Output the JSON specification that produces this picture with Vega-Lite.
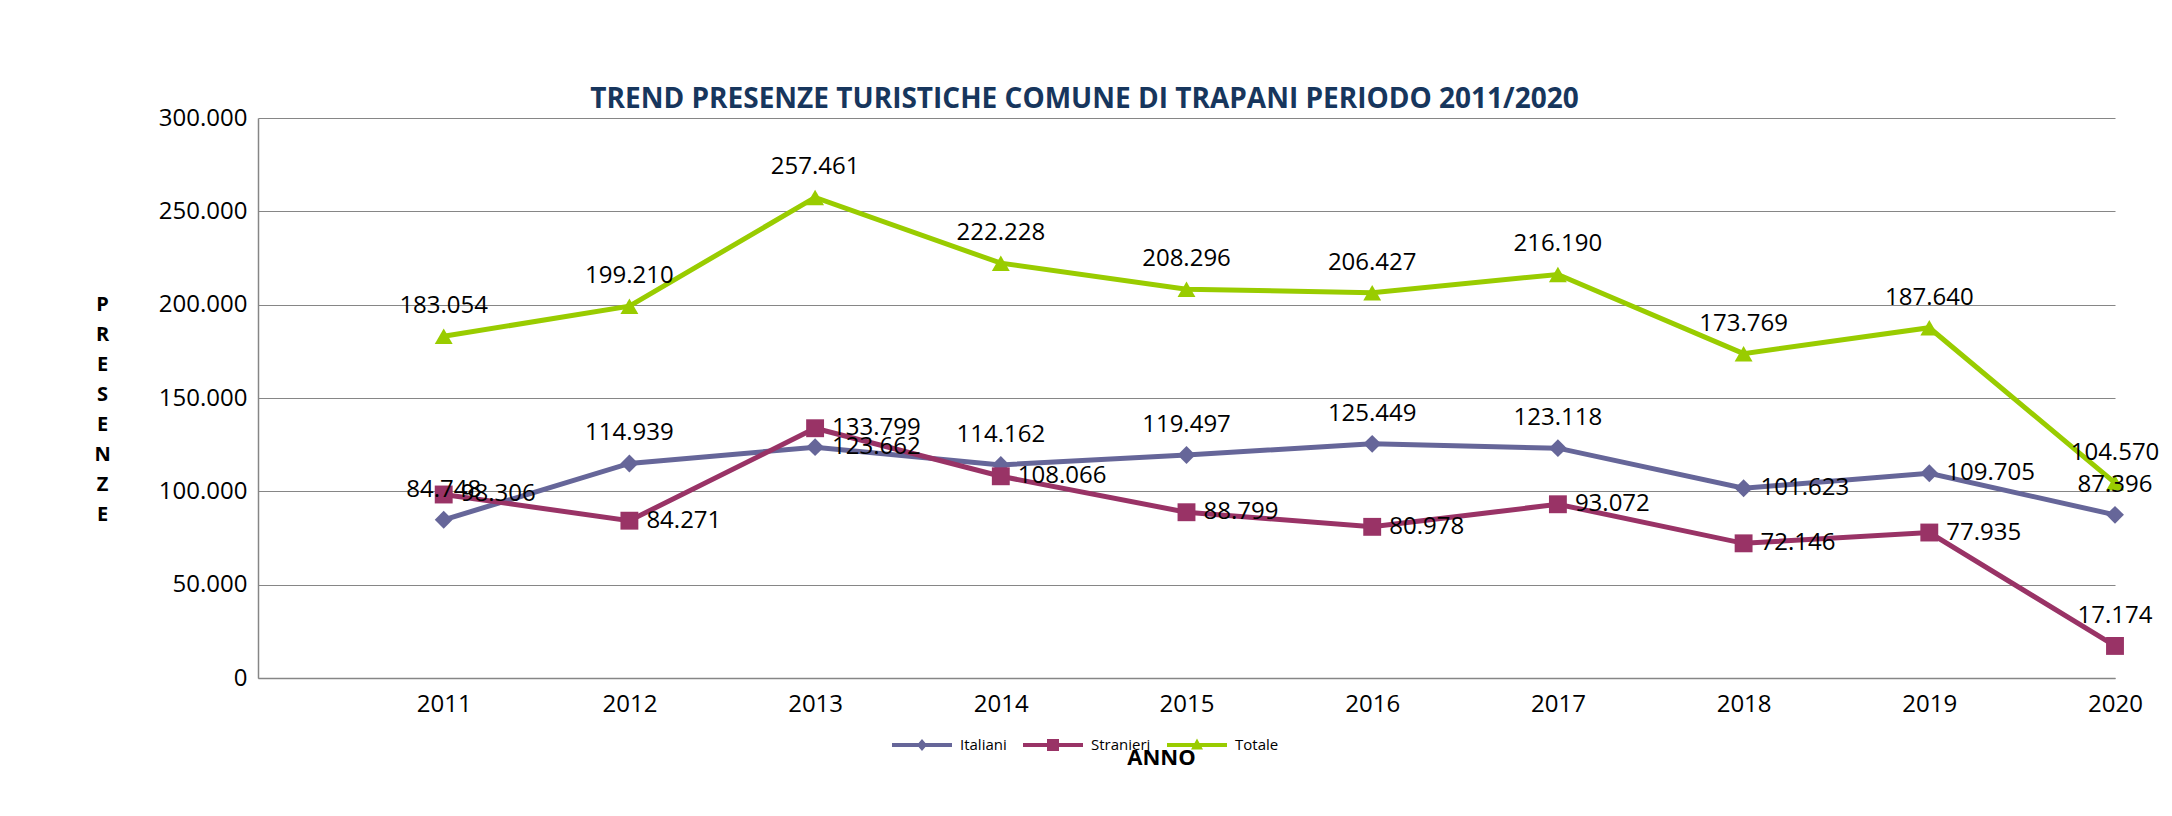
{
  "$schema": "https://vega.github.io/schema/vega-lite/v6.json",
  "width": 1857,
  "height": 560,
  "autosize": "none",
  "padding": {"left": 258, "top": 118, "right": 57, "bottom": 138},
  "background": "white",
  "config": {
    "locale": {"number": {"decimal": ",", "thousands": ".", "grouping": [3], "currency": ["€", ""]}},
    "view": {"stroke": null},
    "font": "Open Sans",
    "legend": {
      "title": null,
      "orient": "none",
      "legendX": 634,
      "legendY": 597,
      "direction": "horizontal",
      "symbolSize": 3600,
      "symbolStrokeWidth": 0,
      "symbolOpacity": 1,
      "labelFont": "Open Sans",
      "labelFontSize": 15,
      "labelColor": "black",
      "labelOffset": 8,
      "columnPadding": 16,
      "padding": 0
    }
  },
  "title": {
    "text": "TREND PRESENZE TURISTICHE  COMUNE DI TRAPANI PERIODO 2011/2020",
    "fontSize": 28,
    "fontWeight": "bold",
    "color": "#17365D",
    "font": "Open Sans",
    "anchor": "middle",
    "frame": "group",
    "dx": -102,
    "baseline": "alphabetic",
    "offset": -30
  },
  "data": {
    "values": [
      {"anno": 2011, "serie": "Italiani", "valore": 84748},
      {"anno": 2012, "serie": "Italiani", "valore": 114939},
      {"anno": 2013, "serie": "Italiani", "valore": 123662},
      {"anno": 2014, "serie": "Italiani", "valore": 114162},
      {"anno": 2015, "serie": "Italiani", "valore": 119497},
      {"anno": 2016, "serie": "Italiani", "valore": 125449},
      {"anno": 2017, "serie": "Italiani", "valore": 123118},
      {"anno": 2018, "serie": "Italiani", "valore": 101623},
      {"anno": 2019, "serie": "Italiani", "valore": 109705},
      {"anno": 2020, "serie": "Italiani", "valore": 87396},
      {"anno": 2011, "serie": "Stranieri", "valore": 98306},
      {"anno": 2012, "serie": "Stranieri", "valore": 84271},
      {"anno": 2013, "serie": "Stranieri", "valore": 133799},
      {"anno": 2014, "serie": "Stranieri", "valore": 108066},
      {"anno": 2015, "serie": "Stranieri", "valore": 88799},
      {"anno": 2016, "serie": "Stranieri", "valore": 80978},
      {"anno": 2017, "serie": "Stranieri", "valore": 93072},
      {"anno": 2018, "serie": "Stranieri", "valore": 72146},
      {"anno": 2019, "serie": "Stranieri", "valore": 77935},
      {"anno": 2020, "serie": "Stranieri", "valore": 17174},
      {"anno": 2011, "serie": "Totale", "valore": 183054},
      {"anno": 2012, "serie": "Totale", "valore": 199210},
      {"anno": 2013, "serie": "Totale", "valore": 257461},
      {"anno": 2014, "serie": "Totale", "valore": 222228},
      {"anno": 2015, "serie": "Totale", "valore": 208296},
      {"anno": 2016, "serie": "Totale", "valore": 206427},
      {"anno": 2017, "serie": "Totale", "valore": 216190},
      {"anno": 2018, "serie": "Totale", "valore": 173769},
      {"anno": 2019, "serie": "Totale", "valore": 187640},
      {"anno": 2020, "serie": "Totale", "valore": 104570}
    ]
  },
  "encoding": {
    "x": {
      "field": "anno",
      "type": "quantitative",
      "scale": {"domain": [2010, 2020], "nice": false, "zero": false},
      "axis": {
        "values": [2011, 2012, 2013, 2014, 2015, 2016, 2017, 2018, 2019, 2020],
        "format": "d",
        "title": "ANNO",
        "titleFont": "Open Sans",
        "titleFontSize": 22,
        "titleFontWeight": "bold",
        "titleColor": "black",
        "titleX": 903,
        "titleY": 86,
        "titleBaseline": "alphabetic",
        "titleAlign": "center",
        "labelFont": "Open Sans",
        "labelFontSize": 24,
        "labelColor": "black",
        "labelPadding": 14,
        "labelFlush": false,
        "labelOverlap": false,
        "ticks": false,
        "grid": false,
        "domainColor": "#868686",
        "domainWidth": 1.5
      }
    },
    "y": {
      "field": "valore",
      "type": "quantitative",
      "scale": {"domain": [0, 300000], "nice": false},
      "axis": {
        "values": [0, 50000, 100000, 150000, 200000, 250000, 300000],
        "format": ",d",
        "title": ["P", "R", "E", "S", "E", "N", "Z", "E"],
        "titleAngle": 0,
        "titleAlign": "center",
        "titleBaseline": "middle",
        "titleX": -156,
        "titleY": 186,
        "titleFont": "Open Sans",
        "titleFontSize": 20,
        "titleFontWeight": "bold",
        "titleColor": "black",
        "titleLineHeight": 30,
        "labelFont": "Open Sans",
        "labelFontSize": 24,
        "labelColor": "black",
        "labelPadding": 11,
        "ticks": false,
        "grid": true,
        "gridColor": "#868686",
        "gridWidth": 1.2,
        "domainColor": "#868686",
        "domainWidth": 1.5
      }
    }
  },
  "layer": [
    {
      "transform": [{"filter": "false"}],
      "mark": {"type": "point", "filled": true, "opacity": 1, "strokeWidth": 0},
      "encoding": {
        "color": {
          "field": "serie",
          "type": "nominal",
          "scale": {"domain": ["Italiani", "Stranieri", "Totale"], "range": ["#666699", "#993366", "#99CC00"]},
          "legend": {}
        },
        "shape": {
          "field": "serie",
          "type": "nominal",
          "scale": {
            "domain": ["Italiani", "Stranieri", "Totale"],
            "range": [
              "M-1,-0.07H1V0.07H-1Z M0,-0.2L0.17,0L0,0.2L-0.17,0Z",
              "M-1,-0.07H1V0.07H-1Z M-0.2,-0.2H0.2V0.2H-0.2Z",
              "M-1,-0.07H1V0.07H-1Z M0,-0.22L0.2,0.15H-0.2Z"
            ]
          },
          "legend": {}
        }
      }
    },
    {
      "transform": [{"filter": "datum.serie === 'Italiani'"}],
      "mark": {"type": "line", "strokeWidth": 5, "color": "#666699"}
    },
    {
      "transform": [{"filter": "datum.serie === 'Italiani'"}],
      "mark": {"type": "point", "filled": true, "shape": "diamond", "size": 320, "opacity": 1, "strokeWidth": 0, "color": "#666699"}
    },
    {
      "transform": [{"filter": "datum.serie === 'Stranieri'"}],
      "mark": {"type": "line", "strokeWidth": 5, "color": "#993366"}
    },
    {
      "transform": [{"filter": "datum.serie === 'Stranieri'"}],
      "mark": {"type": "point", "filled": true, "shape": "square", "size": 320, "opacity": 1, "strokeWidth": 0, "color": "#993366"}
    },
    {
      "transform": [{"filter": "datum.serie === 'Totale'"}],
      "mark": {"type": "line", "strokeWidth": 5, "color": "#99CC00"}
    },
    {
      "transform": [{"filter": "datum.serie === 'Totale'"}],
      "mark": {"type": "point", "filled": true, "shape": "triangle-up", "size": 320, "opacity": 1, "strokeWidth": 0, "color": "#99CC00"}
    },
    {
      "transform": [{"filter": "datum.serie === 'Totale' || (datum.serie === 'Italiani' && datum.anno !== 2013 && datum.anno !== 2018 && datum.anno !== 2019) || (datum.serie === 'Stranieri' && datum.anno === 2020)"}],
      "mark": {"type": "text", "dy": -23, "baseline": "alphabetic", "align": "center", "fontSize": 24, "font": "Open Sans", "color": "black"},
      "encoding": {
        "text": {"field": "valore", "type": "quantitative", "format": ",d"}
      }
    },
    {
      "transform": [{"filter": "!(datum.serie === 'Totale' || (datum.serie === 'Italiani' && datum.anno !== 2013 && datum.anno !== 2018 && datum.anno !== 2019) || (datum.serie === 'Stranieri' && datum.anno === 2020))"}],
      "mark": {"type": "text", "dx": 17, "baseline": "middle", "align": "left", "fontSize": 24, "font": "Open Sans", "color": "black"},
      "encoding": {
        "text": {"field": "valore", "type": "quantitative", "format": ",d"}
      }
    }
  ]
}
